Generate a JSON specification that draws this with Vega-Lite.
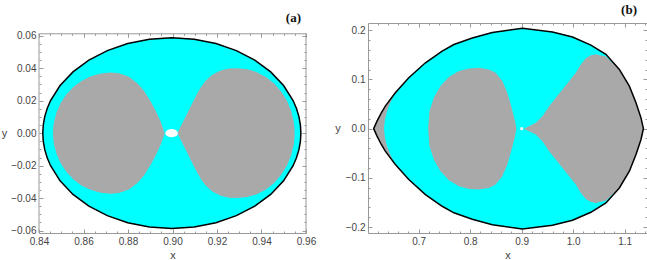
{
  "$schema": "https://vega.github.io/schema/vega-lite/v6.json",
  "padding": {"left": 1, "top": 4, "right": 0, "bottom": 0},
  "datasets": {
    "outerA": [
      {"x": 0.8417, "yt": 0, "yb": 0},
      {"x": 0.84192, "yt": 0.00512, "yb": -0.00512},
      {"x": 0.84258, "yt": 0.01019, "yb": -0.01019},
      {"x": 0.84368, "yt": 0.01519, "yb": -0.01519},
      {"x": 0.8452, "yt": 0.02008, "yb": -0.02008},
      {"x": 0.84947, "yt": 0.02935, "yb": -0.02935},
      {"x": 0.85527, "yt": 0.03773, "yb": -0.03773},
      {"x": 0.86242, "yt": 0.04496, "yb": -0.04496},
      {"x": 0.8707, "yt": 0.05083, "yb": -0.05083},
      {"x": 0.87986, "yt": 0.05516, "yb": -0.05516},
      {"x": 0.88963, "yt": 0.05781, "yb": -0.05781},
      {"x": 0.8997, "yt": 0.0587, "yb": -0.0587},
      {"x": 0.90977, "yt": 0.05781, "yb": -0.05781},
      {"x": 0.91954, "yt": 0.05516, "yb": -0.05516},
      {"x": 0.9287, "yt": 0.05083, "yb": -0.05083},
      {"x": 0.93698, "yt": 0.04496, "yb": -0.04496},
      {"x": 0.94413, "yt": 0.03773, "yb": -0.03773},
      {"x": 0.94993, "yt": 0.02935, "yb": -0.02935},
      {"x": 0.9542, "yt": 0.02008, "yb": -0.02008},
      {"x": 0.95572, "yt": 0.01519, "yb": -0.01519},
      {"x": 0.95682, "yt": 0.01019, "yb": -0.01019},
      {"x": 0.95748, "yt": 0.00512, "yb": -0.00512},
      {"x": 0.9577, "yt": 0, "yb": 0}
    ],
    "lobeA1": [
      {"x": 0.84629, "yt": 0, "yb": 0},
      {"x": 0.8464, "yt": 0.00326, "yb": -0.00326},
      {"x": 0.84668, "yt": 0.00648, "yb": -0.00648},
      {"x": 0.84785, "yt": 0.01276, "yb": -0.01276},
      {"x": 0.84977, "yt": 0.01867, "yb": -0.01867},
      {"x": 0.85236, "yt": 0.024, "yb": -0.024},
      {"x": 0.85555, "yt": 0.02859, "yb": -0.02859},
      {"x": 0.85925, "yt": 0.03233, "yb": -0.03233},
      {"x": 0.86334, "yt": 0.03508, "yb": -0.03508},
      {"x": 0.86772, "yt": 0.03676, "yb": -0.03676},
      {"x": 0.87221, "yt": 0.03733, "yb": -0.03733},
      {"x": 0.87596, "yt": 0.03692, "yb": -0.03692},
      {"x": 0.88045, "yt": 0.03467, "yb": -0.03467},
      {"x": 0.88419, "yt": 0.03077, "yb": -0.03077},
      {"x": 0.88719, "yt": 0.02605, "yb": -0.02605},
      {"x": 0.89019, "yt": 0.01949, "yb": -0.01949},
      {"x": 0.89243, "yt": 0.01374, "yb": -0.01374},
      {"x": 0.89468, "yt": 0.00718, "yb": -0.00718},
      {"x": 0.89648, "yt": 0, "yb": 0}
    ],
    "lobeA2": [
      {"x": 0.90217, "yt": 0, "yb": 0},
      {"x": 0.90367, "yt": 0.0041, "yb": -0.0041},
      {"x": 0.90592, "yt": 0.01026, "yb": -0.01026},
      {"x": 0.90816, "yt": 0.01641, "yb": -0.01641},
      {"x": 0.91041, "yt": 0.02256, "yb": -0.02256},
      {"x": 0.91266, "yt": 0.0281, "yb": -0.0281},
      {"x": 0.91491, "yt": 0.03221, "yb": -0.03221},
      {"x": 0.9179, "yt": 0.0359, "yb": -0.0359},
      {"x": 0.92165, "yt": 0.03856, "yb": -0.03856},
      {"x": 0.92539, "yt": 0.03979, "yb": -0.03979},
      {"x": 0.92914, "yt": 0.04, "yb": -0.04},
      {"x": 0.93362, "yt": 0.03938, "yb": -0.03938},
      {"x": 0.93795, "yt": 0.03758, "yb": -0.03758},
      {"x": 0.94202, "yt": 0.03465, "yb": -0.03465},
      {"x": 0.94571, "yt": 0.03065, "yb": -0.03065},
      {"x": 0.94888, "yt": 0.0257, "yb": -0.0257},
      {"x": 0.95146, "yt": 0.02, "yb": -0.02},
      {"x": 0.95335, "yt": 0.01368, "yb": -0.01368},
      {"x": 0.95451, "yt": 0.00695, "yb": -0.00695},
      {"x": 0.9548, "yt": 0.00349, "yb": -0.00349},
      {"x": 0.95491, "yt": 0, "yb": 0}
    ],
    "dotA": [
      {"x": 0.8968, "yt": 0, "yb": 0},
      {"x": 0.8969, "yt": 0.000673, "yb": -0.000673},
      {"x": 0.89718, "yt": 0.0013, "yb": -0.0013},
      {"x": 0.8982, "yt": 0.00225, "yb": -0.00225},
      {"x": 0.8996, "yt": 0.0026, "yb": -0.0026},
      {"x": 0.901, "yt": 0.00225, "yb": -0.00225},
      {"x": 0.90202, "yt": 0.0013, "yb": -0.0013},
      {"x": 0.90231, "yt": 0.000673, "yb": -0.000673},
      {"x": 0.9024, "yt": 0, "yb": 0}
    ],
    "frameA": [
      {"x": 0.84},
      {"x": 0.96}
    ],
    "outerB": [
      {"x": 0.61256, "yt": 0, "yb": 0},
      {"x": 0.61899, "yt": 0.01527, "yb": -0.01527},
      {"x": 0.62736, "yt": 0.03218, "yb": -0.03218},
      {"x": 0.63515, "yt": 0.04582, "yb": -0.04582},
      {"x": 0.65462, "yt": 0.07291, "yb": -0.07291},
      {"x": 0.68072, "yt": 0.10346, "yb": -0.10346},
      {"x": 0.71305, "yt": 0.13401, "yb": -0.13401},
      {"x": 0.74557, "yt": 0.15784, "yb": -0.15784},
      {"x": 0.76835, "yt": 0.17108, "yb": -0.17108},
      {"x": 0.80399, "yt": 0.18432, "yb": -0.18432},
      {"x": 0.84294, "yt": 0.19552, "yb": -0.19552},
      {"x": 0.90136, "yt": 0.20407, "yb": -0.20407},
      {"x": 0.95979, "yt": 0.19654, "yb": -0.19654},
      {"x": 0.99873, "yt": 0.18635, "yb": -0.18635},
      {"x": 1.03437, "yt": 0.17006, "yb": -0.17006},
      {"x": 1.06358, "yt": 0.15112, "yb": -0.15112},
      {"x": 1.08968, "yt": 0.12057, "yb": -0.12057},
      {"x": 1.10915, "yt": 0.08656, "yb": -0.08656},
      {"x": 1.12201, "yt": 0.05255, "yb": -0.05255},
      {"x": 1.13174, "yt": 0.022, "yb": -0.022},
      {"x": 1.13642, "yt": 0, "yb": 0}
    ],
    "cyanB": [
      {"x": 0.63262, "yt": 0, "yb": 0},
      {"x": 0.63457, "yt": 0.01935, "yb": -0.01935},
      {"x": 0.63847, "yt": 0.03564, "yb": -0.03564},
      {"x": 0.64431, "yt": 0.05193, "yb": -0.05193},
      {"x": 0.6521, "yt": 0.06823, "yb": -0.06823},
      {"x": 0.66379, "yt": 0.0831, "yb": -0.0831},
      {"x": 0.68072, "yt": 0.10346, "yb": -0.10346},
      {"x": 0.71305, "yt": 0.13401, "yb": -0.13401},
      {"x": 0.74557, "yt": 0.15784, "yb": -0.15784},
      {"x": 0.76835, "yt": 0.17108, "yb": -0.17108},
      {"x": 0.80399, "yt": 0.18432, "yb": -0.18432},
      {"x": 0.84294, "yt": 0.19552, "yb": -0.19552},
      {"x": 0.90136, "yt": 0.20407, "yb": -0.20407},
      {"x": 0.95979, "yt": 0.19654, "yb": -0.19654},
      {"x": 0.99873, "yt": 0.18635, "yb": -0.18635},
      {"x": 1.03437, "yt": 0.17006, "yb": -0.17006},
      {"x": 1.06358, "yt": 0.15112, "yb": -0.15112},
      {"x": 1.08968, "yt": 0.12057, "yb": -0.12057},
      {"x": 1.10915, "yt": 0.08656, "yb": -0.08656},
      {"x": 1.12201, "yt": 0.05255, "yb": -0.05255},
      {"x": 1.13174, "yt": 0.022, "yb": -0.022},
      {"x": 1.13642, "yt": 0, "yb": 0}
    ],
    "lobeB1": [
      {"x": 0.71831, "yt": 0, "yb": 0},
      {"x": 0.72084, "yt": 0.03564, "yb": -0.03564},
      {"x": 0.72941, "yt": 0.06273, "yb": -0.06273},
      {"x": 0.74226, "yt": 0.08656, "yb": -0.08656},
      {"x": 0.75862, "yt": 0.10489, "yb": -0.10489},
      {"x": 0.77809, "yt": 0.11711, "yb": -0.11711},
      {"x": 0.79757, "yt": 0.12261, "yb": -0.12261},
      {"x": 0.81704, "yt": 0.12383, "yb": -0.12383},
      {"x": 0.83651, "yt": 0.12057, "yb": -0.12057},
      {"x": 0.84937, "yt": 0.11365, "yb": -0.11365},
      {"x": 0.86241, "yt": 0.09674, "yb": -0.09674},
      {"x": 0.87215, "yt": 0.07291, "yb": -0.07291},
      {"x": 0.88053, "yt": 0.04236, "yb": -0.04236},
      {"x": 0.88715, "yt": 0.01527, "yb": -0.01527},
      {"x": 0.88968, "yt": 0, "yb": 0}
    ],
    "lobeB2": [
      {"x": 0.90331, "yt": 0, "yb": 0},
      {"x": 0.91441, "yt": 0.00509, "yb": -0.00509},
      {"x": 0.92726, "yt": 0.01181, "yb": -0.01181},
      {"x": 0.94031, "yt": 0.02546, "yb": -0.02546},
      {"x": 0.95336, "yt": 0.04582, "yb": -0.04582},
      {"x": 0.96621, "yt": 0.06273, "yb": -0.06273},
      {"x": 0.97926, "yt": 0.07984, "yb": -0.07984},
      {"x": 0.99231, "yt": 0.09674, "yb": -0.09674},
      {"x": 1.00516, "yt": 0.11365, "yb": -0.11365},
      {"x": 1.0149, "yt": 0.13075, "yb": -0.13075},
      {"x": 1.02464, "yt": 0.14297, "yb": -0.14297},
      {"x": 1.03437, "yt": 0.14908, "yb": -0.14908},
      {"x": 1.04411, "yt": 0.15112, "yb": -0.15112},
      {"x": 1.06358, "yt": 0.14664, "yb": -0.14664},
      {"x": 1.08968, "yt": 0.12057, "yb": -0.12057},
      {"x": 1.10915, "yt": 0.08656, "yb": -0.08656},
      {"x": 1.12201, "yt": 0.05255, "yb": -0.05255},
      {"x": 1.13174, "yt": 0.022, "yb": -0.022},
      {"x": 1.13642, "yt": 0, "yb": 0}
    ],
    "dotB": [
      {"x": 0.9, "y": 0}
    ]
  },
  "spacing": 18,
  "hconcat": [
    {
      "width": 267,
      "height": 210,
      "title": {"text": "(a)", "offset": -2.3, "dx": -5},
      "layer": [
        {
          "data": {"name": "outerA"},
          "mark": {"type": "area", "color": "#00ffff", "orient": "vertical"},
          "encoding": {
            "x": {"field": "x", "type": "quantitative", "scale": {"domain": [0.84, 0.96], "nice": false, "zero": false},
              "axis": {"orient": "bottom", "title": "x", "titlePadding": 1,
                "values": [0.84,0.845,0.85,0.855,0.86,0.865,0.87,0.875,0.88,0.885,0.89,0.895,0.9,0.905,0.91,0.915,0.92,0.925,0.93,0.935,0.94,0.945,0.95,0.955,0.96],
                "labelExpr": "abs(datum.value*50-round(datum.value*50))<0.01 ? format(datum.value,'.2f') : ''",
                "tickSize": {"condition": {"test": "abs(datum.value*50-round(datum.value*50))<0.01", "value": -4}, "value": -2}}},
            "y": {"field": "yt", "type": "quantitative", "scale": {"domain": [-0.0615, 0.06784], "nice": false, "zero": false},
              "axis": {"orient": "left", "title": "y", "titleAngle": 0, "titleAlign": "right", "titleBaseline": "middle", "titlePadding": 4, "titleY": 110, "domain": false,
                "values": [-0.06,-0.055,-0.05,-0.045,-0.04,-0.035,-0.03,-0.025,-0.02,-0.015,-0.01,-0.005,0,0.005,0.01,0.015,0.02,0.025,0.03,0.035,0.04,0.045,0.05,0.055,0.06],
                "labelExpr": "abs(datum.value*50-round(datum.value*50))<0.01 ? format(datum.value,'.2f') : ''",
                "tickSize": {"condition": {"test": "abs(datum.value*50-round(datum.value*50))<0.01", "value": -4}, "value": -2}}},
            "y2": {"field": "yb"}
          }
        },
        {
          "data": {"name": "lobeA1"},
          "mark": {"type": "area", "color": "#a9a9a9", "orient": "vertical"},
          "encoding": {
            "x": {"field": "x", "type": "quantitative", "scale": {"domain": [0.84, 0.96], "nice": false, "zero": false}, "axis": null},
            "y": {"field": "yt", "type": "quantitative", "scale": {"domain": [-0.0615, 0.06784], "nice": false, "zero": false}, "axis": null},
            "y2": {"field": "yb"}
          }
        },
        {
          "data": {"name": "lobeA2"},
          "mark": {"type": "area", "color": "#a9a9a9", "orient": "vertical"},
          "encoding": {
            "x": {"field": "x", "type": "quantitative", "scale": {"domain": [0.84, 0.96], "nice": false, "zero": false}, "axis": null},
            "y": {"field": "yt", "type": "quantitative", "scale": {"domain": [-0.0615, 0.06784], "nice": false, "zero": false}, "axis": null},
            "y2": {"field": "yb"}
          }
        },
        {
          "data": {"name": "dotA"},
          "mark": {"type": "area", "color": "#ffffff", "orient": "vertical"},
          "encoding": {
            "x": {"field": "x", "type": "quantitative", "scale": {"domain": [0.84, 0.96], "nice": false, "zero": false}, "axis": null},
            "y": {"field": "yt", "type": "quantitative", "scale": {"domain": [-0.0615, 0.06784], "nice": false, "zero": false}, "axis": null},
            "y2": {"field": "yb"}
          }
        },
        {
          "data": {"name": "frameA"},
          "mark": {"type": "rule", "color": "#999999", "strokeWidth": 1},
          "encoding": {
            "x": {"field": "x", "type": "quantitative", "scale": {"domain": [0.84, 0.96], "nice": false, "zero": false}, "axis": null},
            "y": {"datum": -0.0615, "type": "quantitative", "scale": {"domain": [-0.0615, 0.06784], "nice": false, "zero": false}, "axis": null},
            "y2": {"datum": 0.0615}
          }
        },
        {
          "data": {"name": "outerA"},
          "mark": {"type": "area", "fillOpacity": 0, "stroke": "#000000", "strokeWidth": 1.5, "orient": "vertical"},
          "encoding": {
            "x": {"field": "x", "type": "quantitative", "scale": {"domain": [0.84, 0.96], "nice": false, "zero": false},
              "axis": {"orient": "top", "title": null, "labels": false, "offset": -10.3,
                "values": [0.84,0.845,0.85,0.855,0.86,0.865,0.87,0.875,0.88,0.885,0.89,0.895,0.9,0.905,0.91,0.915,0.92,0.925,0.93,0.935,0.94,0.945,0.95,0.955,0.96],
                "tickSize": {"condition": {"test": "abs(datum.value*50-round(datum.value*50))<0.01", "value": -4}, "value": -2}}},
            "y": {"field": "yt", "type": "quantitative", "scale": {"domain": [-0.0615, 0.06784], "nice": false, "zero": false},
              "axis": {"orient": "right", "title": null, "labels": false, "domain": false,
                "values": [-0.06,-0.055,-0.05,-0.045,-0.04,-0.035,-0.03,-0.025,-0.02,-0.015,-0.01,-0.005,0,0.005,0.01,0.015,0.02,0.025,0.03,0.035,0.04,0.045,0.05,0.055,0.06],
                "tickSize": {"condition": {"test": "abs(datum.value*50-round(datum.value*50))<0.01", "value": -4}, "value": -2}}},
            "y2": {"field": "yb"}
          }
        }
      ],
      "resolve": {"axis": {"x": "independent", "y": "independent"}}
    },
    {
      "width": 279,
      "height": 210,
      "title": {"text": "(b)", "offset": 5.4, "dx": -10},
      "layer": [
        {
          "data": {"name": "outerB"},
          "mark": {"type": "area", "color": "#a9a9a9", "orient": "vertical"},
          "encoding": {
            "x": {"field": "x", "type": "quantitative", "scale": {"domain": [0.6015, 1.1434], "nice": false, "zero": false},
              "axis": {"orient": "bottom", "title": "x", "titlePadding": 1,
                "values": [0.62,0.64,0.66,0.68,0.7,0.72,0.74,0.76,0.78,0.8,0.82,0.84,0.86,0.88,0.9,0.92,0.94,0.96,0.98,1,1.02,1.04,1.06,1.08,1.1,1.12,1.14],
                "labelExpr": "abs(datum.value*10-round(datum.value*10))<0.01 ? format(datum.value,'.1f') : ''",
                "tickSize": {"condition": {"test": "abs(datum.value*10-round(datum.value*10))<0.01", "value": -4}, "value": -2}}},
            "y": {"field": "yt", "type": "quantitative", "scale": {"domain": [-0.2122, 0.2149], "nice": false, "zero": false},
              "axis": {"orient": "left", "title": "y", "titleAngle": 0, "titleAlign": "right", "titleBaseline": "middle", "titlePadding": 5,
                "values": [-0.2,-0.18,-0.16,-0.14,-0.12,-0.1,-0.08,-0.06,-0.04,-0.02,0,0.02,0.04,0.06,0.08,0.1,0.12,0.14,0.16,0.18,0.2],
                "labelExpr": "abs(datum.value*10-round(datum.value*10))<0.01 ? format(datum.value,'.1f') : ''",
                "tickSize": {"condition": {"test": "abs(datum.value*10-round(datum.value*10))<0.01", "value": -4}, "value": -2}}},
            "y2": {"field": "yb"}
          }
        },
        {
          "data": {"name": "cyanB"},
          "mark": {"type": "area", "color": "#00ffff", "orient": "vertical"},
          "encoding": {
            "x": {"field": "x", "type": "quantitative", "scale": {"domain": [0.6015, 1.1434], "nice": false, "zero": false}, "axis": null},
            "y": {"field": "yt", "type": "quantitative", "scale": {"domain": [-0.2122, 0.2149], "nice": false, "zero": false}, "axis": null},
            "y2": {"field": "yb"}
          }
        },
        {
          "data": {"name": "lobeB1"},
          "mark": {"type": "area", "color": "#a9a9a9", "orient": "vertical"},
          "encoding": {
            "x": {"field": "x", "type": "quantitative", "scale": {"domain": [0.6015, 1.1434], "nice": false, "zero": false}, "axis": null},
            "y": {"field": "yt", "type": "quantitative", "scale": {"domain": [-0.2122, 0.2149], "nice": false, "zero": false}, "axis": null},
            "y2": {"field": "yb"}
          }
        },
        {
          "data": {"name": "lobeB2"},
          "mark": {"type": "area", "color": "#a9a9a9", "orient": "vertical"},
          "encoding": {
            "x": {"field": "x", "type": "quantitative", "scale": {"domain": [0.6015, 1.1434], "nice": false, "zero": false}, "axis": null},
            "y": {"field": "yt", "type": "quantitative", "scale": {"domain": [-0.2122, 0.2149], "nice": false, "zero": false}, "axis": null},
            "y2": {"field": "yb"}
          }
        },
        {
          "data": {"name": "dotB"},
          "mark": {"type": "point", "filled": true, "color": "#ffffff", "opacity": 1, "size": 10},
          "encoding": {
            "x": {"field": "x", "type": "quantitative", "scale": {"domain": [0.6015, 1.1434], "nice": false, "zero": false}, "axis": null},
            "y": {"field": "y", "type": "quantitative", "scale": {"domain": [-0.2122, 0.2149], "nice": false, "zero": false}, "axis": null}
          }
        },
        {
          "data": {"name": "outerB"},
          "mark": {"type": "area", "fillOpacity": 0, "stroke": "#000000", "strokeWidth": 1.5, "orient": "vertical"},
          "encoding": {
            "x": {"field": "x", "type": "quantitative", "scale": {"domain": [0.6015, 1.1434], "nice": false, "zero": false},
              "axis": {"orient": "top", "title": null, "labels": false,
                "values": [0.62,0.64,0.66,0.68,0.7,0.72,0.74,0.76,0.78,0.8,0.82,0.84,0.86,0.88,0.9,0.92,0.94,0.96,0.98,1,1.02,1.04,1.06,1.08,1.1,1.12,1.14],
                "tickSize": {"condition": {"test": "abs(datum.value*10-round(datum.value*10))<0.01", "value": -4}, "value": -2}}},
            "y": {"field": "yt", "type": "quantitative", "scale": {"domain": [-0.2122, 0.2149], "nice": false, "zero": false},
              "axis": {"orient": "right", "title": null, "labels": false,
                "values": [-0.2,-0.18,-0.16,-0.14,-0.12,-0.1,-0.08,-0.06,-0.04,-0.02,0,0.02,0.04,0.06,0.08,0.1,0.12,0.14,0.16,0.18,0.2],
                "tickSize": {"condition": {"test": "abs(datum.value*10-round(datum.value*10))<0.01", "value": -4}, "value": -2}}},
            "y2": {"field": "yb"}
          }
        }
      ],
      "resolve": {"axis": {"x": "independent", "y": "independent"}}
    }
  ],
  "config": {
    "view": {"stroke": null},
    "axis": {
      "domainColor": "#999999", "tickColor": "#999999", "domainWidth": 1, "tickWidth": 1,
      "labelColor": "#444444", "titleColor": "#444444",
      "labelFont": "Liberation Sans", "labelFontSize": 10,
      "titleFont": "Liberation Sans", "titleFontSize": 11, "titleFontWeight": "normal",
      "grid": false, "labelFlush": false, "labelOverlap": false, "labelPadding": 7
    },
    "title": {"font": "Liberation Serif", "fontSize": 13, "fontWeight": "bold", "color": "#111111", "anchor": "end", "frame": "group"}
  }
}
